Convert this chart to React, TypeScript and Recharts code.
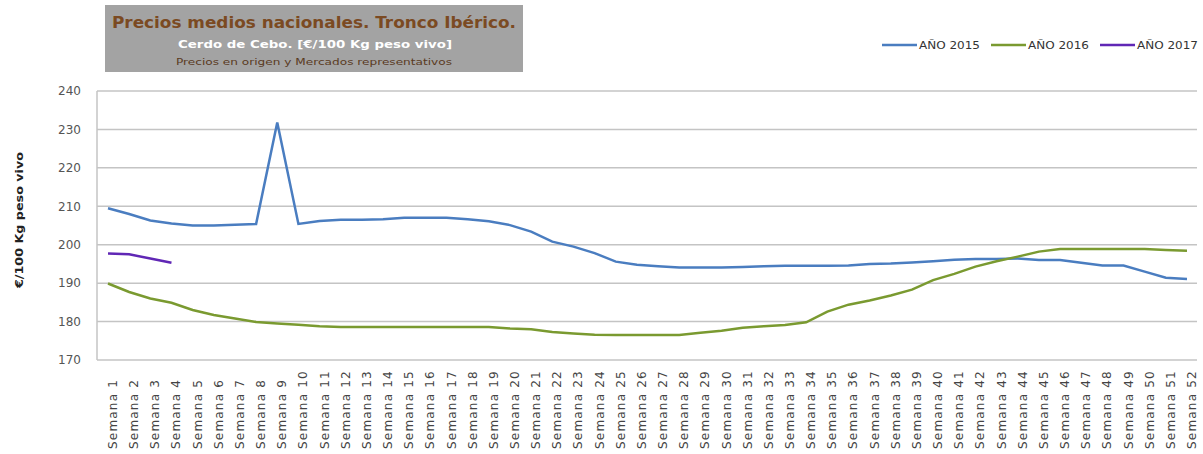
import { LineChart, Line, XAxis, YAxis, CartesianGrid } from "recharts";

const weeks = Array.from({ length: 52 }, (_, i) => `Semana ${i + 1}`);

const year2015 = [
  209.5, 208.0, 206.3, 205.5, 205.0, 205.0, 205.2, 205.4, 231.8, 205.4,
  206.2, 206.5, 206.5, 206.6, 207.0, 207.0, 207.0, 206.6, 206.1, 205.1,
  203.4, 200.8, 199.5, 197.8, 195.6, 194.8, 194.4, 194.1, 194.1, 194.1,
  194.2, 194.4, 194.5, 194.5, 194.5, 194.6, 195.0, 195.1, 195.4, 195.7,
  196.1, 196.3, 196.3, 196.4, 196.0, 196.0, 195.3, 194.6, 194.6, 193.0,
  191.4, 191.1,
];

const year2016 = [
  189.9, 187.7, 186.0, 184.9, 183.0, 181.7, 180.8, 179.9, 179.5, 179.2,
  178.8, 178.6, 178.6, 178.6, 178.6, 178.6, 178.6, 178.6, 178.6, 178.2,
  178.0, 177.3, 176.9, 176.6, 176.5, 176.5, 176.5, 176.5, 177.1, 177.6,
  178.4, 178.8, 179.1, 179.8, 182.6, 184.4, 185.5, 186.8, 188.3, 190.8,
  192.4, 194.3, 195.7, 196.9, 198.2, 198.9, 198.9, 198.9, 198.9, 198.9,
  198.6, 198.4,
];

const year2017 = [197.7, 197.5, 196.4, 195.3];

const yTicks = [170, 180, 190, 200, 210, 220, 230, 240];

const seriesInfo = [
  { key: "y2015", name: "AÑO 2015", color: "#4a7dc0" },
  { key: "y2016", name: "AÑO 2016", color: "#7a9a30" },
  { key: "y2017", name: "AÑO 2017", color: "#6027b5" },
];

const chartData = weeks.map((w, i) => ({
  week: w,
  y2015: year2015[i],
  y2016: year2016[i],
  y2017: i < year2017.length ? year2017[i] : null,
}));

const font = "'DejaVu Sans', Verdana, sans-serif";

function WeekTick(props: any) {
  const { x, payload } = props;
  return (
    <text
      x={0}
      y={0}
      transform={`translate(${x + 9},449) rotate(-90)`}
      textAnchor="start"
      fontSize={12}
      letterSpacing={1.2}
      fill="#444"
      fontFamily={font}
    >
      {payload.value}
    </text>
  );
}

export default function App() {
  return (
    <div style={{ position: "absolute", left: 0, top: 0, width: 1203, height: 454, background: "#fff" }}>
      <LineChart
        width={1203}
        height={454}
        data={chartData}
        margin={{ top: 91, right: 6, left: 0, bottom: 0 }}
      >
        <CartesianGrid vertical={false} stroke="#c4c4c4" strokeWidth={1.5} />
        <XAxis
          dataKey="week"
          interval={0}
          height={94}
          tick={<WeekTick />}
          tickLine={false}
          axisLine={false}
          padding={{ left: 11, right: 10 }}
        />
        <YAxis
          domain={[170, 240]}
          ticks={yTicks}
          width={97}
          tick={{ fontSize: 12, fill: "#555", fontFamily: font }}
          tickLine={false}
          tickMargin={10}
          axisLine={{ stroke: "#c4c4c4", strokeWidth: 1.5 }}
        />
        {seriesInfo.map((s) => (
          <Line
            key={s.key}
            dataKey={s.key}
            name={s.name}
            stroke={s.color}
            strokeWidth={2.5}
            dot={false}
            connectNulls={false}
            isAnimationActive={false}
          />
        ))}
      </LineChart>

      <svg
        width={1203}
        height={454}
        style={{ position: "absolute", left: 0, top: 0, pointerEvents: "none" }}
      >
        <rect x={105} y={5} width={418} height={67} fill="#a3a3a3" />
        <text x={314} y={28} textAnchor="middle" fontFamily={font} fontWeight="bold" fontSize={16}
          fill="#7b4a22" textLength={404} lengthAdjust="spacingAndGlyphs">
          Precios medios nacionales. Tronco Ibérico.
        </text>
        <text x={315} y={48} textAnchor="middle" fontFamily={font} fontWeight="bold" fontSize={11}
          fill="#fff" textLength={274} lengthAdjust="spacingAndGlyphs">
          Cerdo de Cebo. [€/100 Kg peso vivo]
        </text>
        <text x={314} y={65} textAnchor="middle" fontFamily={font} fontSize={9}
          fill="#5a3a1e" textLength={276} lengthAdjust="spacingAndGlyphs">
          Precios en origen y Mercados representativos
        </text>

        <text transform="translate(23,220) rotate(-90)" textAnchor="middle" fontFamily={font}
          fontWeight="bold" fontSize={11} fill="#222" textLength={136} lengthAdjust="spacingAndGlyphs">
          €/100 Kg peso vivo
        </text>

        {seriesInfo.map((s, i) => (
          <g key={s.key} transform={`translate(${882 + i * 109},0)`}>
            <line x1={0} y1={45} x2={35} y2={45} stroke={s.color} strokeWidth={2.5} />
            <text x={37} y={49} fontFamily={font} fontSize={11} fill="#333"
              textLength={61} lengthAdjust="spacingAndGlyphs">
              {s.name}
            </text>
          </g>
        ))}
      </svg>
    </div>
  );
}
